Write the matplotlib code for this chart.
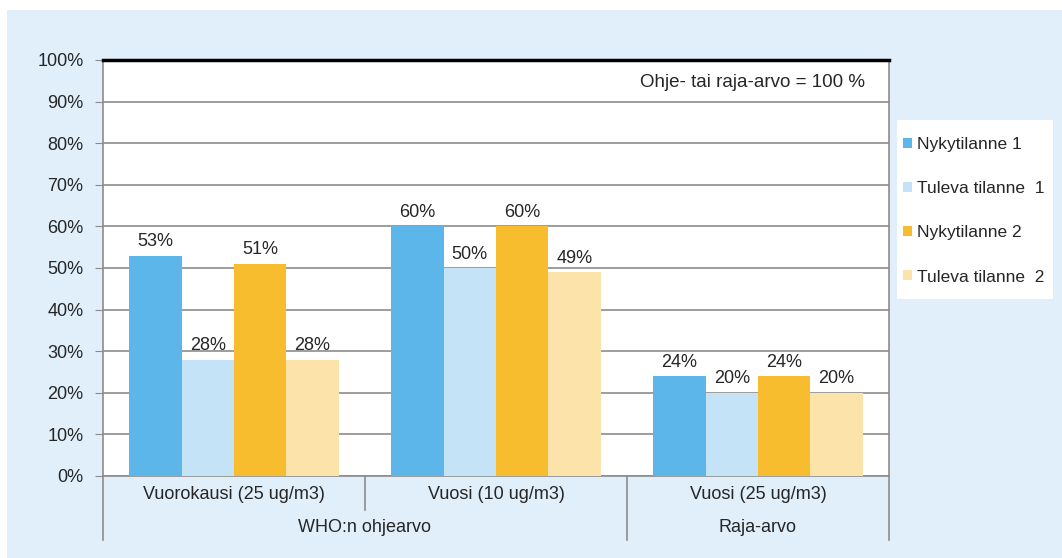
import numpy as np
import matplotlib

matplotlib.use("Agg")
import matplotlib.pyplot as plt
from matplotlib.patches import Rectangle
import matplotlib.transforms as mtransforms

plt.rcParams["font.family"] = ["Liberation Sans", "DejaVu Sans"]

categories = ["Vuorokausi (25 ug/m3)", "Vuosi (10 ug/m3)", "Vuosi (25 ug/m3)"]
groups = ["WHO:n ohjearvo", "Raja-arvo"]
group_spans = [(0, 2), (2, 3)]  # category index ranges per group
series = ["Nykytilanne 1", "Tuleva tilanne  1", "Nykytilanne 2", "Tuleva tilanne  2"]
nyky1 = [53, 60, 24]
tuleva1 = [28, 50, 20]
nyky2 = [51, 60, 24]
tuleva2 = [28, 49, 20]
values = [nyky1, tuleva1, nyky2, tuleva2]
colors = ["#5db6ea", "#c4e3f6", "#f8bd2f", "#fbe3a9"]
note = "Ohje- tai raja-arvo = 100 %"

bg = "#e0effa"
grid_c = "#8c8c8c"
txt_c = "#262626"
fs = 13

fig = plt.figure(figsize=(10.62, 5.58), dpi=100)
fig.patch.set_facecolor("white")
fig.patches.append(Rectangle((7 / 1062, 0), 1, 1 - 10 / 558, transform=fig.transFigure,
                             facecolor=bg, edgecolor="none", zorder=-10))
# white panel behind the legend
fig.patches.append(Rectangle((897 / 1062, 1 - 299 / 558), 156 / 1062, 179 / 558,
                             transform=fig.transFigure, facecolor="white",
                             edgecolor="none", zorder=-5))

ax = fig.add_axes([103 / 1062, 82 / 558, 786 / 1062, 416 / 558])
ax.set_facecolor("white")

x = np.arange(len(categories))
w = 0.2
for i, (vals, col, name) in enumerate(zip(values, colors, series)):
    pos = x - 0.3 + i * w
    ax.bar(pos, vals, width=w, color=col, label=name, zorder=3)
    for px, v in zip(pos, vals):
        ax.text(px, v + 1.3, f"{v}%", ha="center", va="bottom", fontsize=fs,
                color=txt_c, zorder=4)

ax.set_xlim(-0.5, len(categories) - 0.5)
ax.set_ylim(0, 100)
ax.set_yticks(np.arange(0, 101, 10))
ax.set_yticklabels([f"{t}%" for t in range(0, 101, 10)])
ax.yaxis.grid(True, color=grid_c, linewidth=1.2, zorder=0)
ax.set_axisbelow(True)
ax.tick_params(axis="y", length=6, color=grid_c, labelsize=fs, labelcolor=txt_c, pad=8)
ax.set_xticks([])

for s in ["left", "right", "bottom"]:
    ax.spines[s].set_color(grid_c)
    ax.spines[s].set_linewidth(1.2)
ax.spines["top"].set_color("black")
ax.spines["top"].set_linewidth(2.5)

# two-level category axis below the plot
trans = mtransforms.blended_transform_factory(ax.transData, ax.transAxes)
for i, cat in enumerate(categories):
    ax.text(i, -0.045, cat, transform=trans, ha="center", va="center",
            fontsize=fs, color=txt_c)
for name, (a, b) in zip(groups, group_spans):
    ax.text((a + b - 1) / 2, -0.125, name, transform=trans, ha="center",
            va="center", fontsize=fs, color=txt_c)
edges = [-0.5] + [b - 0.5 for _, b in group_spans]
for e in edges:
    ax.plot([e, e], [0, -0.155], transform=trans, color=grid_c, lw=1.2, clip_on=False)
for i in range(len(categories) - 1):
    if i + 1 not in [b for _, b in group_spans]:
        ax.plot([i + 0.5, i + 0.5], [0, -0.082], transform=trans, color=grid_c,
                lw=1.2, clip_on=False)

ax.text(0.97, 0.945, note, transform=ax.transAxes, ha="right", va="center",
        fontsize=13.5, color=txt_c)

leg = fig.legend(loc="upper left", bbox_to_anchor=(903 / 1062, 1 - 137 / 558),
                 frameon=False, fontsize=12.5, handlelength=0.5, handleheight=0.5,
                 handletextpad=0.3, labelspacing=1.68, borderpad=0,
                 borderaxespad=0)
for t in leg.get_texts():
    t.set_color(txt_c)

plt.savefig("out.png", dpi=100, facecolor=fig.get_facecolor())
